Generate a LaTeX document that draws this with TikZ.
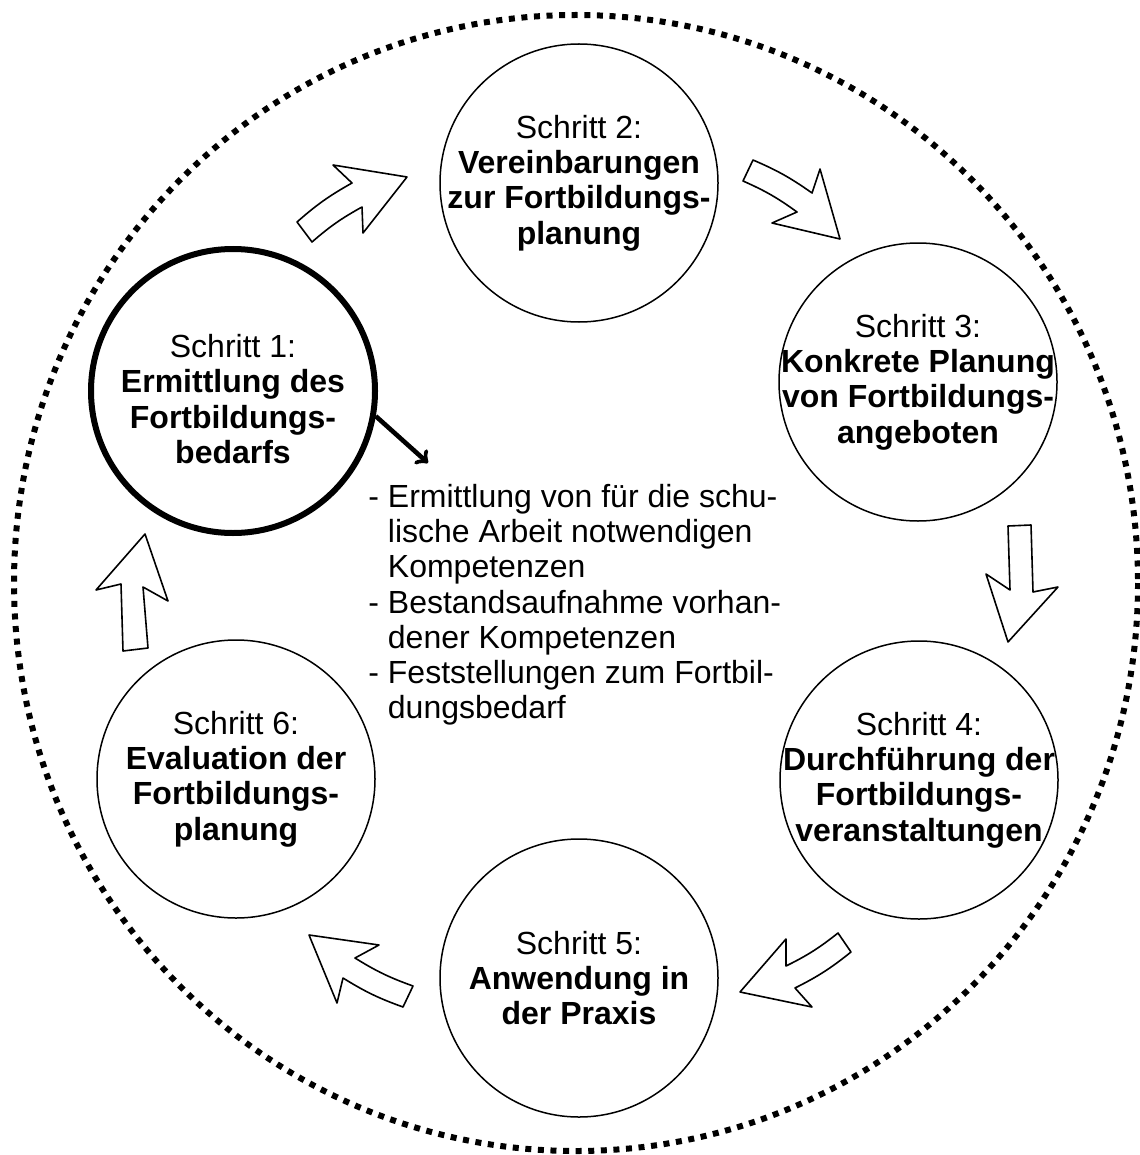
\documentclass[tikz,border=0pt]{standalone}
\usepackage{fontspec}
\setmainfont{Liberation Sans}
\usetikzlibrary{positioning}

\begin{document}
\begin{tikzpicture}[x=0.5pt, y=-0.5pt,
                schritt/.style={draw, circle, minimum size=139pt, inner sep=0pt, line width=0.75pt},
                schrittext/.style={align=center, inner sep=0pt, font=\fontsize{16}{17.6}\selectfont},
                pfeil/.style={draw, fill=white, line width=0.8pt, line join=round}]
                \useasboundingbox (0,0) rectangle (1139,1155);
                \draw[line width=3pt, dash pattern=on 3pt off 3.3pt] (576,583) ellipse [x radius=562, y radius=568];

                \node[schritt, line width=3pt, minimum size=142pt] (s1) at (233,391) {};
                \node[schritt] (s2) at (579,183) {};
                \node[schritt] (s3) at (918,382) {};
                \node[schritt] (s4) at (919,780) {};
                \node[schritt] (s5) at (579,978) {};
                \node[schritt] (s6) at (236,779) {};

                \node[schrittext] (t1) at ([yshift=-4pt]s1) {Schritt 1:\\\textbf{Ermittlung des}\\\textbf{Fortbildungs-}\\\textbf{bedarfs}};
                \node[schrittext] (t2) at (s2) {Schritt 2:\\\textbf{Vereinbarungen}\\\textbf{zur Fortbildungs-}\\\textbf{planung}};
                \node[schrittext] (t3) at (s3) {Schritt 3:\\\textbf{Konkrete Planung}\\\textbf{von Fortbildungs-}\\\textbf{angeboten}};
                \node[schrittext] (t4) at (s4) {Schritt 4:\\\textbf{Durchführung der}\\\textbf{Fortbildungs-}\\\textbf{veranstaltungen}};
                \node[schrittext] (t5) at (s5) {Schritt 5:\\\textbf{Anwendung in}\\\textbf{der Praxis}};
                \node[schrittext] (t6) at (s6) {Schritt 6:\\\textbf{Evaluation der}\\\textbf{Fortbildungs-}\\\textbf{planung}};

                % Pfeile zwischen den Schritten
                \draw[pfeil] (297,222) to[bend left=6] (352,183) -- (333,165) -- (407,177) -- (363,233) -- (362,207) to[bend right=6] (312,242) -- cycle;
                \draw[pfeil] (753,160) to[bend left=6] (812,193) -- (820,169) -- (840,239) -- (772,223) -- (797,212) to[bend right=6] (743,181) -- cycle;
                \draw[pfeil] (1008,526) -- (1031,525) -- (1033,592) -- (1058,587) -- (1008,642) -- (986,574) -- (1010,590) -- cycle;
                \draw[pfeil] (838,933) -- (851,952) to[bend left=6] (795,988) -- (812,1007) -- (740,992) -- (786,939) -- (786,966) to[bend right=6] cycle;
                \draw[pfeil] (413,986) -- (403,1007) to[bend left=6] (343,978) -- (337,1003) -- (309,935) -- (379,945) -- (355,958) to[bend right=6] cycle;
                \draw[pfeil] (123,651) -- (148,648) -- (143,587) -- (168,601) -- (145,534) -- (96,590) -- (121,584) -- cycle;

                \node[schrittext, align=left, anchor=north west] (liste) at (368,484)
                  {- Ermittlung von für die schu-\\\phantom{- }lische Arbeit notwendigen\\\phantom{- }Kompetenzen\\
                   - Bestandsaufnahme vorhan-\\\phantom{- }dener Kompetenzen\\
                   - Feststellungen zum Fortbil-\\\phantom{- }dungsbedarf};
                \coordinate (ziel) at (428,463);
                \draw[line width=2.3pt, ->] (s1.-10) -- (ziel);
            \end{tikzpicture}
\end{document}
